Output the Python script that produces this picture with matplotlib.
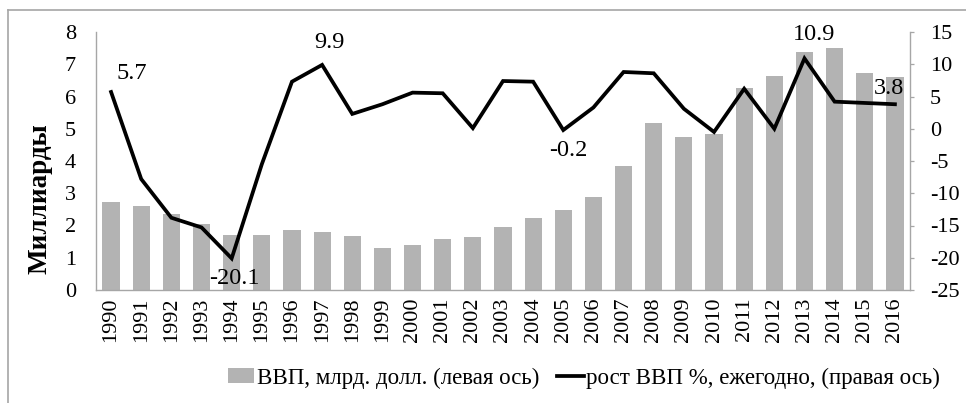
import numpy as np
import matplotlib
matplotlib.use("Agg")
import matplotlib.pyplot as plt
from matplotlib.lines import Line2D

plt.rcParams['font.family'] = ['Liberation Serif', 'DejaVu Serif']
plt.rcParams['axes.unicode_minus'] = False

years = ['1990', '1991', '1992', '1993', '1994', '1995', '1996', '1997', '1998', '1999',
         '2000', '2001', '2002', '2003', '2004', '2005', '2006', '2007', '2008', '2009',
         '2010', '2011', '2012', '2013', '2014', '2015', '2016']
gdp = [2.72, 2.60, 2.35, 2.06, 1.70, 1.69, 1.86, 1.80, 1.68, 1.29,
       1.39, 1.57, 1.64, 1.94, 2.24, 2.49, 2.87, 3.84, 5.17, 4.73,
       4.83, 6.25, 6.64, 7.37, 7.51, 6.72, 6.60]
growth = [5.7, -7.8, -13.8, -15.3, -20.1, -5.5, 7.3, 9.9, 2.3, 3.8,
          5.6, 5.5, 0.1, 7.4, 7.3, -0.2, 3.3, 8.8, 8.6, 3.1,
          -0.5, 6.2, 0.0, 10.9, 4.2, 4.0, 3.8]

# labelled points: year -> offset of the text in pixels
labels = {'1990': (21, 18), '1994': (3, -20), '1997': (7, 22),
          '2005': (5, -20), '2013': (10, 24), '2016': (-6, 16)}

gray = '#b3b3b3'
spine_gray = '#a6a6a6'

fig = plt.figure(figsize=(9.66, 4.03), dpi=100)
ax = fig.add_axes([96 / 966, 1 - 290 / 403, (910 - 96) / 966, (290 - 32) / 403])
ax2 = ax.twinx()

x = np.arange(len(years))
bars = ax.bar(x, gdp, width=0.57, color=gray, zorder=1)
ax.set_xlim(-0.5, len(years) - 0.5)
ax.set_ylim(0, 8)
ax.set_yticks(range(0, 9))
ax.set_xticks(x)
ax.set_xticklabels(years, rotation=90, fontsize=16)
ax.tick_params(axis='x', length=0, pad=5.5)
ax.tick_params(axis='y', length=0, pad=14.5, labelsize=16)
ax.set_ylabel('Миллиарды', fontsize=19.5, fontweight='bold')
ax.yaxis.set_label_coords(-0.054, 0.353)

line, = ax2.plot(x, growth, color='black', lw=2.7, solid_joinstyle='miter', zorder=3)
ax2.set_ylim(-25, 15)
ax2.set_yticks(range(-25, 16, 5))
ax2.tick_params(axis='y', length=3, width=0.9, color=spine_gray, pad=11.5, labelsize=16)

for a in (ax, ax2):
    a.spines['top'].set_visible(False)
    for s in ('left', 'right', 'bottom'):
        a.spines[s].set_color(spine_gray)
        a.spines[s].set_linewidth(1.0)
ax.spines['right'].set_visible(False)
ax2.spines['left'].set_visible(False)
ax2.spines['bottom'].set_visible(False)

for yr, (dx, dy) in labels.items():
    i = years.index(yr)
    ax2.annotate(f'{growth[i]:.1f}', (i, growth[i]), xytext=(dx, dy),
                 textcoords='offset pixels', ha='center', va='center', fontsize=17.5)

handles = [bars, Line2D([0], [0], color='black', lw=2.7)]
fig.legend(handles, ['ВВП, млрд. долл. (левая ось)', 'рост ВВП %, ежегодно, (правая ось)'],
           loc='center', bbox_to_anchor=(584 / 966, 1 - 378 / 403), ncol=2, frameon=False,
           fontsize=16.5, handlelength=1.15, handleheight=0.6, handletextpad=0.1,
           columnspacing=0.8)

# chart frame (only top and left edges fall inside the image)
fig.add_artist(Line2D([8 / 966, 1], [1 - 10 / 403] * 2, color=spine_gray, lw=1.2))
fig.add_artist(Line2D([8 / 966] * 2, [0, 1 - 10 / 403], color=spine_gray, lw=1.2))

fig.savefig('out.png', dpi=100)
